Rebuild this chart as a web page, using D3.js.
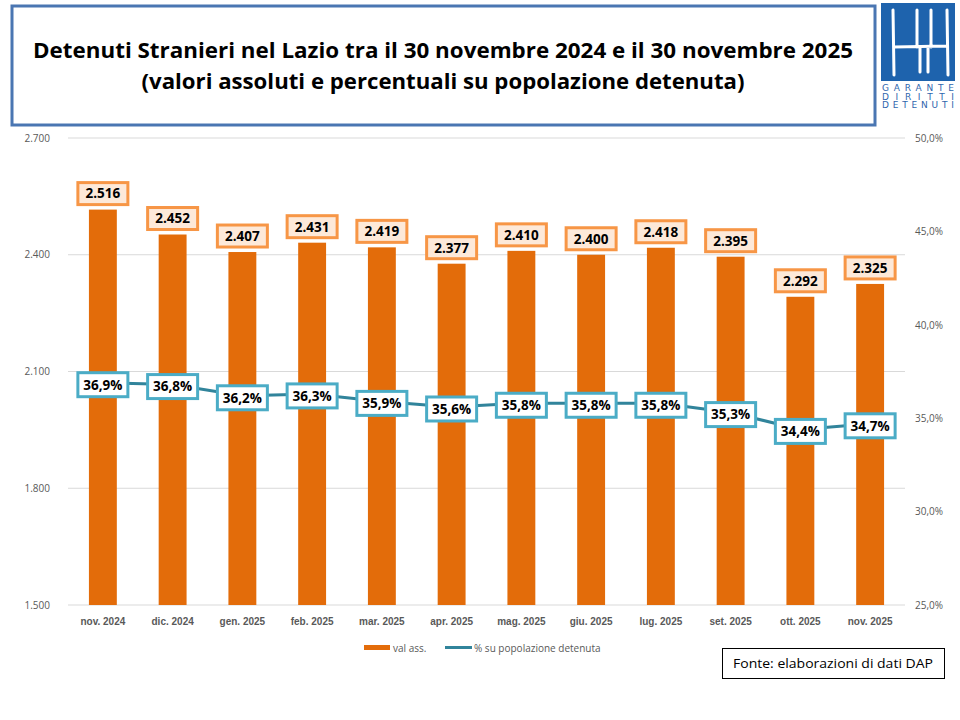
<!DOCTYPE html>
<html>
<head>
<meta charset="utf-8">
<script src="https://cdn.jsdelivr.net/npm/d3@7"></script>
<style>
  body { margin: 0; background: #fff; }
  svg { display: block; font-family: "Open Sans", "DejaVu Sans", sans-serif; }
</style>
</head>
<body>
<div id="chart"></div>
<script>
// dati
const mesi = ['nov. 2024', 'dic. 2024', 'gen. 2025', 'feb. 2025', 'mar. 2025', 'apr. 2025',
  'mag. 2025', 'giu. 2025', 'lug. 2025', 'set. 2025', 'ott. 2025', 'nov. 2025'];
const valAss = [2516, 2452, 2407, 2431, 2419, 2377, 2410, 2400, 2418, 2395, 2292, 2325];
const percentuali = [36.9, 36.8, 36.2, 36.3, 35.9, 35.6, 35.8, 35.8, 35.8, 35.3, 34.4, 34.7];
const ticksSx = [1500, 1800, 2100, 2400, 2700];
const ticksDx = [25, 30, 35, 40, 45, 50];

const W = 960, H = 720;
const M = { left: 68, right: 905, top: 138, bottom: 605 };

const itNum = d3.formatLocale({ decimal: ',', thousands: '.', grouping: [3], currency: ['€', ''] });
const fmtInt = itNum.format(',d');
const fmtPct = v => itNum.format('.1f')(v) + '%';

const svg = d3.select('#chart').append('svg')
  .attr('width', W).attr('height', H);

// scale
const x = d3.scaleBand().domain(mesi).range([M.left, M.right]).paddingInner(0.6).paddingOuter(0.3);
const y = d3.scaleLinear().domain([1500, 2700]).range([M.bottom, M.top]);
const y2 = d3.scaleLinear().domain([25, 50]).range([M.bottom, M.top]);

// riquadro titolo
svg.append('rect')
  .attr('x', 12).attr('y', 6).attr('width', 863).attr('height', 119)
  .attr('fill', '#fff').attr('stroke', '#4a76b2').attr('stroke-width', 3);

const titolo = svg.append('g').attr('font-weight', 'bold').attr('fill', '#000')
  .attr('text-anchor', 'middle');
titolo.append('text').attr('x', 443).attr('y', 58).attr('font-size', 21)
  .attr('textLength', 820).attr('lengthAdjust', 'spacingAndGlyphs')
  .text('Detenuti Stranieri nel Lazio tra il 30 novembre 2024 e il 30 novembre 2025');
titolo.append('text').attr('x', 443).attr('y', 89).attr('font-size', 21)
  .attr('textLength', 603).attr('lengthAdjust', 'spacingAndGlyphs')
  .text('(valori assoluti e percentuali su popolazione detenuta)');

// logo
const logo = svg.append('g');
logo.append('rect').attr('x', 881).attr('y', 3).attr('width', 74).attr('height', 78).attr('fill', '#1e63ad');
logo.append('path')
  .attr('d', 'M893,10 L894,75 M947,10 L948,75 M917,10 L917,47 M931,10 L931,47 M920,47 L920,72 M928,47 L928,72 M894,47 L947,46')
  .attr('stroke', '#fff').attr('stroke-width', 3).attr('fill', 'none').attr('stroke-linecap', 'round');
const logoTxt = logo.append('g').attr('fill', '#2f66ad').attr('font-size', 9)
  .attr('font-family', 'DejaVu Sans, sans-serif');
['GARANTE', 'DIRITTI', 'DETENUTI'].forEach((t, i) => {
  logoTxt.append('text').attr('x', 882).attr('y', 91 + i * 8.5)
    .attr('textLength', 72).attr('lengthAdjust', 'spacing').text(t);
});

// griglia
svg.append('g').selectAll('line').data(ticksSx).enter().append('line')
  .attr('x1', M.left).attr('x2', M.right)
  .attr('y1', d => y(d)).attr('y2', d => y(d))
  .attr('stroke', '#d9d9d9').attr('stroke-width', 1);

// assi
const axisSx = svg.append('g').attr('transform', `translate(${M.left},0)`)
  .call(d3.axisLeft(y).tickValues(ticksSx).tickFormat(fmtInt).tickSize(0).tickPadding(18));
const axisDx = svg.append('g').attr('transform', `translate(${M.right},0)`)
  .call(d3.axisRight(y2).tickValues(ticksDx).tickFormat(d => itNum.format('.1f')(d) + '%').tickSize(0).tickPadding(10));
[axisSx, axisDx].forEach(a => {
  a.select('.domain').remove();
  a.selectAll('text').attr('fill', '#595959').attr('font-size', 10).attr('font-family', 'Open Sans, sans-serif');
});

const axisX = svg.append('g').attr('transform', `translate(0,${M.bottom})`)
  .call(d3.axisBottom(x).tickSize(0).tickPadding(13));
axisX.select('.domain').remove();
axisX.selectAll('text').attr('fill', '#595959').attr('font-size', 10).attr('font-weight', 'bold');

// barre
svg.append('g').selectAll('rect').data(valAss).enter().append('rect')
  .attr('x', (d, i) => x(mesi[i]))
  .attr('y', d => y(d))
  .attr('width', x.bandwidth())
  .attr('height', d => y(1500) - y(d))
  .attr('fill', '#e36c0a');

// etichette barre
const lblBar = svg.append('g').selectAll('g').data(valAss).enter().append('g')
  .attr('transform', (d, i) => `translate(${x(mesi[i]) + x.bandwidth() / 2},${y(d) - 16})`);
lblBar.append('rect').attr('x', -25).attr('y', -11).attr('width', 50).attr('height', 22)
  .attr('fill', '#fde9d9').attr('stroke', '#f79646').attr('stroke-width', 3);
lblBar.append('text').attr('text-anchor', 'middle').attr('dy', '0.36em')
  .attr('font-size', 13.5).attr('font-weight', 'bold').attr('fill', '#000')
  .text(d => fmtInt(d));

// linea percentuale
const linea = d3.line()
  .x((d, i) => x(mesi[i]) + x.bandwidth() / 2)
  .y(d => y2(d));
svg.append('path').datum(percentuali)
  .attr('d', linea).attr('fill', 'none')
  .attr('stroke', '#31849b').attr('stroke-width', 3);

const lblPct = svg.append('g').selectAll('g').data(percentuali).enter().append('g')
  .attr('transform', (d, i) => `translate(${x(mesi[i]) + x.bandwidth() / 2},${y2(d) + 2})`);
lblPct.append('rect').attr('x', -25).attr('y', -12).attr('width', 50).attr('height', 24)
  .attr('fill', '#fff').attr('stroke', '#4bacc6').attr('stroke-width', 3);
lblPct.append('text').attr('text-anchor', 'middle').attr('dy', '0.36em')
  .attr('font-size', 13.5).attr('font-weight', 'bold').attr('fill', '#000')
  .text(d => fmtPct(d));

// legenda
const leg = svg.append('g').attr('font-size', 10).attr('fill', '#595959');
leg.append('rect').attr('x', 364).attr('y', 645).attr('width', 26).attr('height', 5).attr('fill', '#e36c0a');
leg.append('text').attr('x', 393).attr('y', 651.5).text('val ass.');
leg.append('line').attr('x1', 445).attr('x2', 472).attr('y1', 647.5).attr('y2', 647.5)
  .attr('stroke', '#31849b').attr('stroke-width', 3);
leg.append('text').attr('x', 474).attr('y', 651.5).text('% su popolazione detenuta');

// fonte
svg.append('rect').attr('x', 722.5).attr('y', 648.5).attr('width', 222).attr('height', 30)
  .attr('fill', '#fff').attr('stroke', '#000').attr('stroke-width', 1);
svg.append('text').attr('x', 833).attr('y', 668).attr('text-anchor', 'middle')
  .attr('font-size', 13).attr('fill', '#000')
  .attr('textLength', 200).attr('lengthAdjust', 'spacingAndGlyphs')
  .text('Fonte: elaborazioni di dati DAP');
</script>
</body>
</html>
